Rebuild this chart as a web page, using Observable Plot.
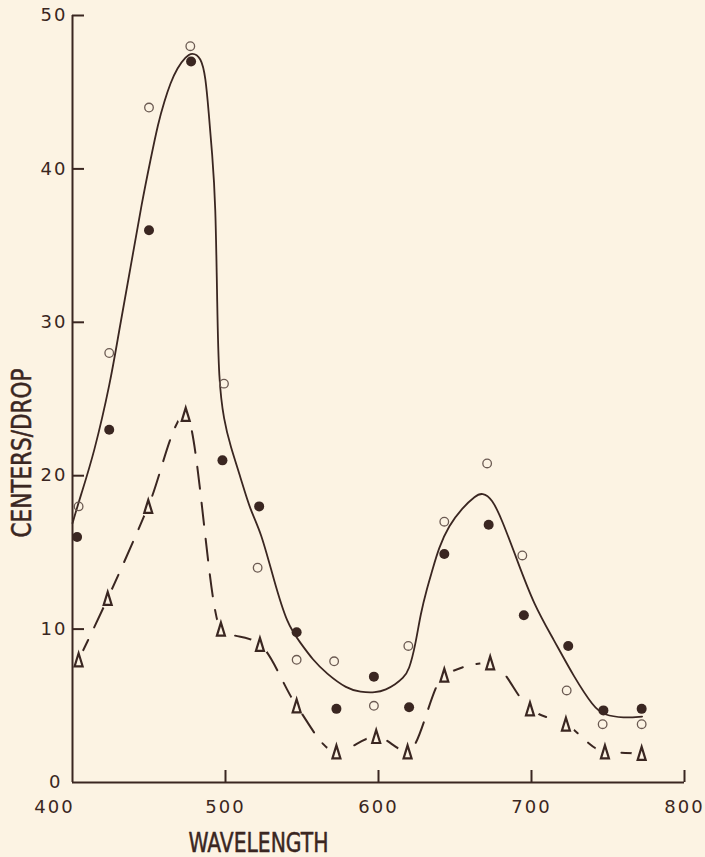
<!DOCTYPE html>
<html>
<head>
<meta charset="utf-8">
<script src="https://cdn.jsdelivr.net/npm/d3@7"></script>
<script src="https://cdn.jsdelivr.net/npm/@observablehq/plot@0.6"></script>
<style>
  html, body { margin: 0; padding: 0; background: #fcf3e3; }
  #chart svg { display: block; }
</style>
</head>
<body>
<div id="chart"></div>
<script>
// ---- data ----
// open circles
const openX = [404, 424, 450, 477, 499, 521, 546.5, 571, 597, 619.5, 643, 671, 694, 723, 746.5, 772];
const openY = [18, 28, 44, 48, 26, 14, 8, 7.9, 5, 8.9, 17, 20.8, 14.8, 6, 3.8, 3.8];
// filled circles
const filledX = [403, 424, 450, 477.5, 498, 522, 546.5, 572.5, 597, 620, 643, 672, 695, 724, 747, 772];
const filledY = [16, 23, 36, 47, 21, 18, 9.8, 4.8, 6.9, 4.9, 14.9, 16.8, 10.9, 8.9, 4.7, 4.8];
// triangles (joined by the dashed line)
const triX = [404, 423, 449.5, 474, 497, 522.5, 546.5, 572.5, 598.5, 619, 643, 673, 699, 722.5, 748, 772];
const triY = [8, 12, 18, 24, 10, 9, 5, 2, 3, 2, 7, 7.8, 4.8, 3.8, 2, 1.9];
// smooth solid curve drawn through the circles
const curveX = [400, 405, 414, 425, 430, 438, 445.5, 451, 456, 460, 464, 468.5, 474, 478, 484, 487, 489, 491.3, 493.5, 494.6, 495.6, 498.9, 503.3, 509.8, 516.3, 523, 531.6, 540.3, 549, 557, 566, 579.5, 588, 598, 605, 611, 616, 620, 624.2, 627.5, 631.8, 635.1, 639.4, 646, 654.7, 663.4, 667.8, 674.3, 680.8, 690.6, 701.5, 714.6, 727.6, 740.7, 747.2, 760.3, 772.3];
const curveY = [16.9, 18.6, 21.4, 26.2, 29.2, 33.6, 37.9, 40.6, 43.0, 44.4, 45.6, 46.6, 47.3, 47.6, 47.3, 46, 43.7, 41.0, 37.9, 31.0, 26.2, 23.6, 21.9, 19.9, 17.7, 16.4, 13.2, 10.3, 9.1, 8.0, 7.1, 6.1, 5.9, 5.85, 6.05, 6.4, 6.8, 7.3, 9.0, 11.0, 12.7, 13.8, 15.3, 16.75, 17.9, 18.7, 18.9, 18.5, 17.1, 14.5, 11.6, 9.3, 6.9, 4.9, 4.4, 4.2, 4.3];
// ticks
const xTicks = [400, 500, 600, 700, 800];
const yTicks = [0, 10, 20, 30, 40, 50];
const xTitle = "WAVELENGTH";
const yTitle = "CENTERS/DROP";

// ---- build tables ----
const zip = (xs, ys) => xs.map((x, i) => ({x, y: ys[i]}));
const openPts = zip(openX, openY);
const filledPts = zip(filledX, filledY);
const triPts = zip(triX, triY);
const curvePts = zip(curveX, curveY);

const ink = "#3a2621";
const bg = "#fcf3e3";
const titleFont = "'Liberation Sans Narrow', 'DejaVu Sans Condensed', 'Roboto Condensed', sans-serif";

// narrow "delta" triangle symbol
const narrowTri = {
  draw(ctx, size) {
    const r = Math.sqrt(size / Math.PI);
    const h = r * 2.6, w = r * 1.6;
    ctx.moveTo(0, -h / 2);
    ctx.lineTo(w / 2, h / 2);
    ctx.lineTo(-w / 2, h / 2);
    ctx.closePath();
  }
};

const chart = Plot.plot({
  width: 705,
  height: 857,
  marginLeft: 72,
  marginRight: 21,
  marginTop: 15,
  marginBottom: 75,
  style: {background: bg, color: ink, fontFamily: "'DejaVu Sans', sans-serif", fontSize: "18px", overflow: "visible"},
  x: {domain: [400, 800], label: null},
  y: {domain: [0, 50], label: null},
  marks: [
    Plot.line(triPts, {x: "x", y: "y", curve: "monotone-x", stroke: ink, strokeWidth: 2, strokeDasharray: "22,14"}),
    Plot.dot(triPts, {x: "x", y: "y", r: 10, fill: bg, stroke: null}),
    Plot.dot(triPts, {x: "x", y: "y", r: 5, symbol: narrowTri, stroke: ink, strokeWidth: 2.2, fill: "none"}),
    Plot.line(curvePts, {x: "x", y: "y", curve: "basis", stroke: ink, strokeWidth: 1.8}),
    Plot.dot(openPts, {x: "x", y: "y", r: 4.3, stroke: "#6b5a52", strokeWidth: 1.3, fill: "none"}),
    Plot.dot(filledPts, {x: "x", y: "y", r: 5, fill: ink, stroke: null}),
    Plot.ruleX([xTicks[0]], {stroke: ink, strokeWidth: 2}),
    Plot.ruleY([yTicks[0]], {stroke: ink, strokeWidth: 2}),
    Plot.axisY(yTicks.slice(1), {tickSize: -12, tickPadding: 17, strokeWidth: 2, label: null, fontSize: 18}),
    Plot.axisY(yTicks.slice(0, 1), {tickSize: 0, tickPadding: 10, label: null, fontSize: 18}),
    Plot.axisX(xTicks.slice(1), {tickSize: -12, tickPadding: 30, strokeWidth: 2, label: null, fontSize: 18}),
    Plot.axisX(xTicks.slice(0, 1), {tickSize: 0, tickPadding: 18, dx: -18, label: null, fontSize: 18}),
    Plot.text([xTitle], {text: d => d, frameAnchor: "bottom", textAnchor: "middle", lineAnchor: "middle", dx: -120, dy: 61, fontSize: 27, fontFamily: titleFont, fill: ink, stroke: ink, strokeWidth: 0.5}),
    Plot.text([yTitle], {text: d => d, frameAnchor: "left", textAnchor: "middle", lineAnchor: "middle", rotate: -90, dx: -50, dy: 54, fontSize: 27, fontFamily: titleFont, fill: ink, stroke: ink, strokeWidth: 0.5})
  ]
});

document.getElementById("chart").appendChild(chart);
const svg = d3.select(chart);
svg.selectAll("g[aria-label^='x-axis tick label'] text, g[aria-label^='y-axis tick label'] text").attr("letter-spacing", "2px");
svg.selectAll("text").filter(function() { return this.textContent === xTitle; })
  .attr("textLength", 140).attr("lengthAdjust", "spacingAndGlyphs");
svg.selectAll("text").filter(function() { return this.textContent === yTitle; })
  .attr("textLength", 169).attr("lengthAdjust", "spacingAndGlyphs");
</script>
</body>
</html>
